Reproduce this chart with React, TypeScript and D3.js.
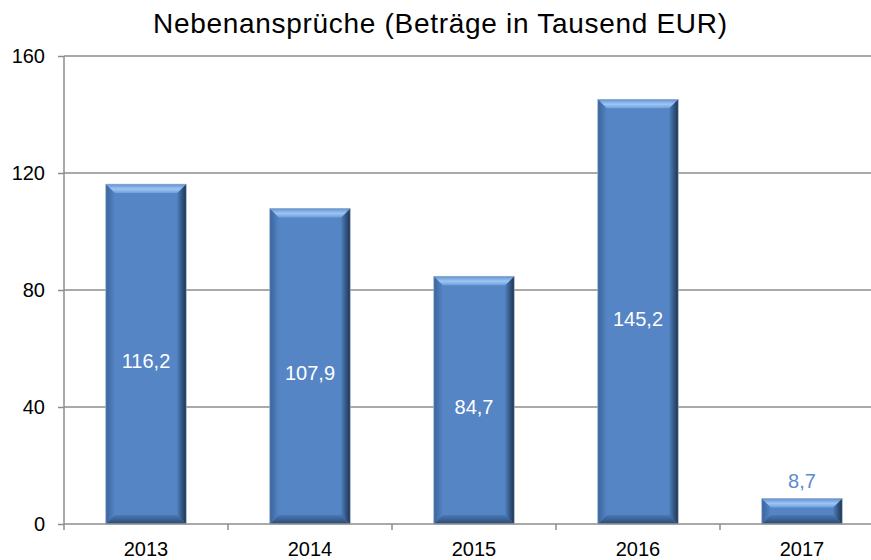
import React, { useRef, useEffect } from "react";
import * as d3 from "d3";

const years = ["2013", "2014", "2015", "2016", "2017"];
const values = [116.2, 107.9, 84.7, 145.2, 8.7];
const yTicks = [0, 40, 80, 120, 160];
const title = "Nebenansprüche (Beträge in Tausend EUR)";

const App = () => {
  const ref = useRef<SVGSVGElement>(null);

  useEffect(() => {
    document.body.style.margin = "0";

    const width = 871;
    const height = 560;
    const marginLeft = 64;
    const marginTop = 56;
    const marginBottom = 36;
    const font = "'Liberation Sans', Arial, sans-serif";

    const svg = d3.select(ref.current);
    svg.selectAll("*").remove();

    // Verläufe für die Kanten
    const defs = svg.append("defs");
    const grad = (id, x2, y2, stops) => {
      const g = defs.append("linearGradient").attr("id", id)
        .attr("x1", 0).attr("y1", 0).attr("x2", x2).attr("y2", y2);
      stops.forEach(([o, c]) => g.append("stop").attr("offset", o).attr("stop-color", c));
    };
    grad("topG", 0, 1, [[0, "#6090d0"], [0.55, "#9cc6f4"], [1, "#6e9edb"]]);
    grad("rightG", 1, 0, [[0, "#4f7fbe"], [1, "#1c3350"]]);
    grad("leftG", 1, 0, [[0, "#3a649c"], [1, "#5585c5"]]);
    grad("bottomG", 0, 1, [[0, "#4a78b6"], [1, "#2b4a74"]]);

    const x = d3.scaleBand()
      .domain(years)
      .range([marginLeft, marginLeft + 164 * years.length])
      .paddingInner(0.51)
      .paddingOuter(0.255);

    const y = d3.scaleLinear()
      .domain([0, 160])
      .range([height - marginBottom, marginTop]);

    // Gitterlinien
    svg.append("g")
      .selectAll("line")
      .data(yTicks.slice(1))
      .join("line")
      .attr("x1", marginLeft)
      .attr("x2", width)
      .attr("y1", (d) => y(d))
      .attr("y2", (d) => y(d))
      .attr("stroke", "#8c8c8c")
      .attr("stroke-width", 1.5);

    // Balken mit Fase
    const b = 9;
    const bars = svg.append("g")
      .selectAll("g")
      .data(years.map((yr, i) => ({ yr, v: values[i] })))
      .join("g");

    bars.each(function (d) {
      const g = d3.select(this);
      const x0 = x(d.yr);
      const x1 = x0 + x.bandwidth();
      const y0 = y(d.v);
      const y1 = y(0);
      const e = Math.min(b, (y1 - y0) / 2);
      g.append("rect")
        .attr("x", x0).attr("y", y0)
        .attr("width", x1 - x0).attr("height", y1 - y0)
        .attr("fill", "#5585c5");
      const poly = (pts, fill) =>
        g.append("polygon").attr("points", pts.map((p) => p.join(",")).join(" ")).attr("fill", fill);
      poly([[x0, y1], [x0 + e, y1 - e], [x1 - e, y1 - e], [x1, y1]], "url(#bottomG)");
      poly([[x0, y0], [x0 + e, y0 + e], [x0 + e, y1 - e], [x0, y1]], "url(#leftG)");
      poly([[x1, y0], [x1 - e, y0 + e], [x1 - e, y1 - e], [x1, y1]], "url(#rightG)");
      poly([[x0, y0], [x1, y0], [x1 - e, y0 + e], [x0 + e, y0 + e]], "url(#topG)");
      g.append("rect")
        .attr("x", x0).attr("y", y0)
        .attr("width", x1 - x0).attr("height", y1 - y0)
        .attr("fill", "none")
        .attr("stroke", "#a9b8c8")
        .attr("stroke-width", 0.6);
    });

    // Werte
    bars.append("text")
      .attr("x", (d) => x(d.yr) + x.bandwidth() / 2)
      .attr("y", (d) => (d.v > 20 ? (y(d.v) + y(0)) / 2 + 14 : y(d.v) - 11))
      .attr("text-anchor", "middle")
      .attr("fill", (d) => (d.v > 20 ? "#ffffff" : "#5b8bd0"))
      .style("font", `20px ${font}`)
      .text((d) => d3.format(".1f")(d.v).replace(".", ","));

    // Y-Achse
    const yAxis = svg.append("g")
      .attr("transform", `translate(${marginLeft},0)`)
      .call(d3.axisLeft(y).tickValues(yTicks).tickSize(6).tickPadding(13).tickFormat(d3.format("d")));
    yAxis.select(".domain").attr("stroke", "#8c8c8c").attr("stroke-width", 1.5)
      .attr("d", `M0,${y(160)}V${y(0)}`);
    yAxis.selectAll(".tick line").attr("stroke", "#8c8c8c").attr("stroke-width", 1.5);
    yAxis.selectAll("text").style("font", `20px ${font}`).attr("fill", "#000");

    // X-Achse
    const xAxis = svg.append("g").attr("transform", `translate(0,${y(0)})`);
    xAxis.append("line")
      .attr("x1", marginLeft).attr("x2", width)
      .attr("stroke", "#8c8c8c").attr("stroke-width", 1.5);
    xAxis.selectAll(".sep")
      .data(years)
      .join("line")
      .attr("class", "sep")
      .attr("x1", (d) => x(d) - x.step() * x.paddingInner() / 2)
      .attr("x2", (d) => x(d) - x.step() * x.paddingInner() / 2)
      .attr("y1", 0).attr("y2", 6)
      .attr("stroke", "#8c8c8c").attr("stroke-width", 1.5);
    xAxis.selectAll("text")
      .data(years)
      .join("text")
      .attr("x", (d) => x(d) + x.bandwidth() / 2)
      .attr("y", 32)
      .attr("text-anchor", "middle")
      .style("font", `20px ${font}`)
      .text((d) => d);

    // Titel
    svg.append("text")
      .attr("x", 440)
      .attr("y", 33)
      .attr("text-anchor", "middle")
      .attr("textLength", 574)
      .attr("lengthAdjust", "spacing")
      .style("font", `28px ${font}`)
      .text(title);
  }, []);

  return (
    <svg ref={ref} width={871} height={560} style={{ display: "block" }} />
  );
};

export default App;
